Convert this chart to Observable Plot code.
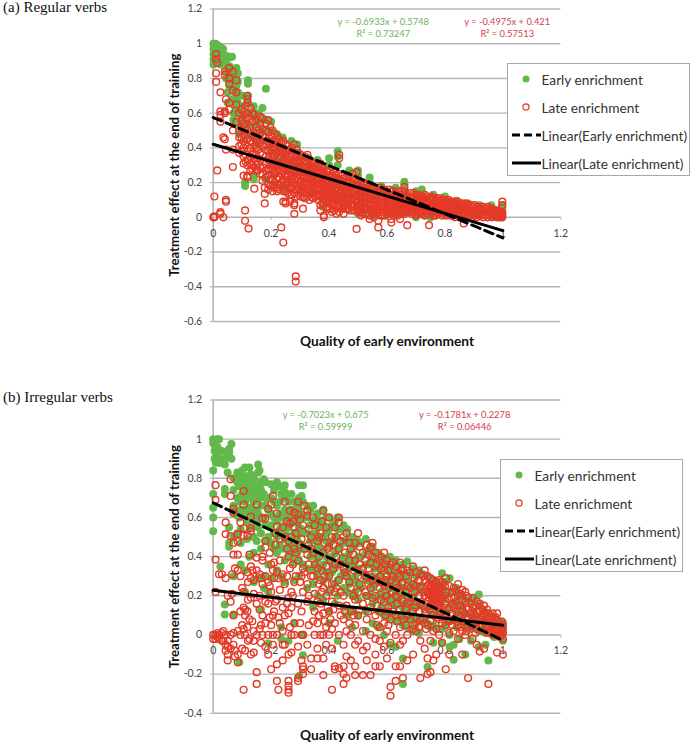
<!DOCTYPE html>
<html><head><meta charset="utf-8">
<script src="https://cdn.jsdelivr.net/npm/d3@7"></script>
<script src="https://cdn.jsdelivr.net/npm/@observablehq/plot@0.6"></script>
<style>
html,body{margin:0;padding:0;background:#fff}
#page{position:relative;width:690px;height:742px;overflow:hidden;font-family:Lato,sans-serif}
#page>div.plot{position:absolute;left:0}
.cap{position:absolute;left:3px;font:15px "Liberation Serif",serif;color:#111}
.leg{position:absolute;width:181px;height:111px;background:#fff;border:1px solid #a8a8a8;color:#333;font:13.7px Lato,sans-serif;box-sizing:content-box}
.leg .t{position:absolute;white-space:nowrap;transform:translateY(-50%)}
.leg svg{position:absolute;left:0;top:0;overflow:visible}
</style></head><body><div id="page"></div>
<script>
const yTicksA=[-0.6,-0.4,-0.2,0,0.2,0.4,0.6,0.8,1,1.2];
const yTicksB=[-0.4,-0.2,0,0.2,0.4,0.6,0.8,1,1.2];
const xTicks=[0,0.2,0.4,0.6,0.8,1,1.2];
const seriesNames=["Early enrichment","Late enrichment","Linear(Early enrichment)","Linear(Late enrichment)"];
const trendX=[0,1];
const trendEarlyA=[0.5748,-0.1185], trendLateA=[0.421,-0.0765];
const trendEarlyB=[0.675,-0.0273], trendLateB=[0.2278,0.0497];
const eqA=["y = -0.6933x + 0.5748\nR² = 0.73247","y = -0.4975x + 0.421\nR² = 0.57513"];
const eqB=["y = -0.7023x + 0.675\nR² = 0.59999","y = -0.1781x + 0.2278\nR² = 0.06446"];
const eqPosA=[0.587,1.015], eqPosB=[0.388,0.868];

/* each row: x, then the y values read at that x */
const earlyA=[
[.001,1,.97,.94,.91,.88],[.008,1,.98,.95,.92,.89],[.016,.99,.96,.93,.9],[.025,.98,.95,.92,.88],[.034,.97,.94,.9],[.045,.93,.88,.84,.8],[.056,.92,.87,.82,.76],[.065,.925,.85,.8,.74,.68],[.08,.86,.82,.76,.7,.64],[.085,.83,.78,.72,.66,.6],[.1,.7,.64,.58,.5],[.12,.79,.77,.7,.66,.6,.54,.47],[.14,.64,.58,.52,.46],[.155,.6,.55,.47,.42],[.17,.63,.56,.5,.44],[.182,.74,.56,.5],[.2,.55,.5,.44,.38],[.22,.48,.42,.37],[.24,.46,.4,.34],[.27,.44,.39,.32],[.29,.42,.37,.3],
[.11,.2,.18],[.14,.24,.22],[.18,.22],[.245,.17,.16],[.33,.34,.3],[.36,.33,.29],[.4,.34,.3],[.43,.38,.35,.3],[.47,.27,.24],[.5,.27,.24],[.54,.23,.2],[.58,.18],[.63,.17],[.66,.205,.19],[.7,.15],[.72,.16,.14],[.76,.13],[.8,.12],[.84,.095],[.88,.08],[.92,.07],[.96,.07],[.998,.07,.055],
[.45,.12,.05],[.52,.03],[.62,.02],[.73,.01],[.8,.03],[.9,.01]];
const earlyA2=[[.21,.3,.24,.18],[.26,.28,.2],[.3,.26,.18,.14],[.34,.24,.15],[.38,.22,.12,.06],[.42,.2,.1],[.46,.17,.08],[.5,.14,.06,.02],[.55,.12,.04,.01],[.6,.1,.03],[.65,.08,.02],[.7,.06,.0],[.75,.04,.0],[.78,.07,.02],[.85,.03],[.05,.72,.66],[.07,.6,.56],[.09,.54,.48]];
const lateA=[
[.001,0,0],[.004,.12,.005,0],[.01,.94,.91,.83,.78],[.014,.89,.27],[.025,.72,.02,.03],[.025,.59,.55,.61],[.035,0,.46],[.04,.84,.82,.6,.45,.61],[.044,.1,.09,.68,.39],[.055,.86,.8,.77,.62,.66],[.068,.73,.84,.29,.39,.5],[.08,.79,.72,.65,.55],[.09,.6,.5,.46,.41,.37],
[.105,.59,.54,.48,.44,.4,.35,.31,.24],[.11,.04,-.02],[.118,.7,.68,.66,.6,.5,.45,.38,.33,.3,.24,.23],[.122,-.065],[.135,.6,.55,.47,.43,.36,.3,.28],[.142,.59,.46,.41,.34,.29,.165],[.155,.5,.45,.39,.34,.31,.27],[.17,.57,.51,.47,.41,.36,.29,.25,.21],[.178,.135,.08,.17],[.19,.56,.49,.44,.38,.33,.28,.24,.19,.16],[.205,.5,.46,.4,.34,.3,.27,.22,.18,.15],[.22,.47,.42,.37,.31,.26,.22,.17,.15],[.235,.43,.39,.35,.3,.25,.2,-.058],[.242,-.145,.09],[.25,.42,.36,.32,.28,.24,.19,.15,.09,.08],[.265,.39,.35,.3,.26,.22,.17,.13,.09],[.28,.42,.36,.31,.27,.22,.19,.14,.08,.07,.02],[.285,-.34,-.37],[.295,.37,.33,.28,.25,.21,.17,.13],[.31,.32,.29,.26,.23,.19,.15,.115,.05],[.325,.36,.31,.27,.24,.2,.16,.12],[.34,.32,.29,.25,.22,.18,.14,.115],[.355,.3,.26,.23,.19,.15,.12],[.37,.31,.27,.24,.2,.16,.12,.07,.04],[.382,.26,.23,.19,.16,.12,.08,.01,0],[.395,.26,.22,.18,.15,.12,.09,.05],[.41,.25,.21,.18,.14,.11,.07,.03],[.425,.24,.2,.17,.13,.1,.06,.02],[.435,.36,.34,.22,.18,.14,.1,.07,.03],[.45,.22,.19,.16,.13,.09,.06,.02],[.465,.2,.17,.14,.11,.08,.05],[.48,.25,.22,.18,.15,.11,.08,.04],[.495,.26,.2,.16,.12,.09,.05,-.067],[.51,.19,.16,.13,.1,.07,.03,.01],[.525,.19,.15,.12,.09,.06,.02],[.54,.18,.14,.11,.08,.05,.01,-.01],[.555,.17,.13,.1,.07,.04,0],[.57,.15,.12,.09,.06,.03,-.02,-.058],[.585,.15,.12,.09,.06,.03,.01],[.6,.14,.11,.08,.05,.02],[.615,.15,.11,.08,.05,.02,-.01,-.03],[.63,.14,.1,.08,.05,.03],[.645,.13,.1,.07,.05,.02,-.01],[.66,.175,.15,.1,.07,.04,.02],[.67,.12,.09,.06,.03,-.045],[.685,.12,.09,.06,.04,.02],[.7,.13,.09,.07,.05,.02,.01],[.715,.12,.09,.07,.04,.02],[.73,.13,.09,.06,.04,.01],[.745,.11,.08,.05,.03,-.045],[.76,.11,.08,.06,.03,.01],[.775,.1,.08,.06,.04,.02],[.79,.1,.07,.05,.03,.01],[.805,.09,.07,.05,.03,.01],[.82,.09,.07,.05,.03,.01],[.835,.08,.06,.04,.02,0],[.85,.08,.06,.04,.02],[.865,.07,.05,.03,.01,-.035],[.88,.07,.05,.03,.01],[.895,.06,.04,.02,0],[.91,.06,.04,.02,0],[.925,.05,.03,.01],[.94,.05,.03,.01],[.955,.05,.03,.01],[.97,.04,.02,.01],[.985,.03,.01,0],[.998,.09,.07,.03,.02,.01,0]];
const lateA2=[
[.098,.62,.56,.51,.46,.42,.38],[.112,.64,.57,.52,.47,.42,.36,.32],[.128,.63,.57,.52,.48,.44,.4,.35,.31,.27],[.148,.56,.52,.48,.44,.4,.36,.32,.27],[.162,.58,.54,.49,.43,.37,.33,.29,.25],[.182,.54,.5,.46,.42,.39,.35,.31,.27,.23],[.197,.52,.47,.43,.39,.35,.31,.27,.22,.18],[.212,.48,.44,.4,.36,.33,.29,.25,.2,.17],[.227,.45,.41,.38,.34,.3,.27,.23,.19,.16],[.242,.44,.4,.37,.33,.29,.26,.22,.18,.15],[.257,.41,.38,.34,.31,.27,.24,.2,.17,.14],[.272,.4,.37,.33,.3,.27,.24,.2,.16,.13],[.288,.39,.35,.32,.29,.26,.23,.19,.16,.12],[.302,.36,.33,.3,.27,.24,.21,.18,.15,.12],[.317,.35,.32,.29,.26,.23,.2,.17,.14,.11],[.332,.33,.3,.28,.25,.22,.19,.16,.13,.1],[.347,.31,.28,.26,.23,.2,.17,.14,.11],[.362,.3,.27,.25,.22,.19,.16,.13,.1],[.377,.28,.25,.23,.2,.17,.14,.11,.08],[.39,.27,.24,.21,.18,.15,.12,.09,.06],[.403,.27,.24,.2,.17,.14,.11,.08,.05],[.418,.26,.23,.19,.16,.13,.1,.07,.04],[.432,.25,.22,.19,.15,.12,.09,.06],[.445,.24,.21,.18,.15,.12,.09,.05],[.458,.23,.2,.17,.14,.11,.08,.05],[.472,.23,.2,.16,.13,.1,.07,.04],[.488,.22,.19,.16,.13,.1,.07,.04],[.502,.21,.18,.15,.12,.09,.06,.03],[.517,.2,.17,.14,.11,.08,.05,.02],[.532,.19,.17,.14,.11,.08,.05,.02],[.548,.18,.16,.13,.1,.07,.05,.02],[.562,.17,.15,.12,.1,.07,.04,.02],[.578,.17,.14,.12,.09,.07,.04,.01],[.592,.16,.14,.11,.09,.06,.04,.01],[.608,.16,.13,.11,.08,.06,.03],[.622,.15,.13,.1,.08,.06,.03,.01],[.638,.15,.12,.1,.08,.05,.03,.01],[.652,.15,.13,.11,.08,.06,.04],[.665,.14,.12,.1,.08,.05,.03],[.678,.14,.11,.09,.07,.05,.03],[.692,.14,.11,.09,.07,.05,.03],[.708,.13,.11,.09,.07,.05,.03],[.722,.12,.1,.08,.06,.04,.02],[.738,.12,.1,.08,.06,.04,.02],[.752,.12,.1,.08,.06,.04,.02],[.768,.11,.09,.07,.05,.03,.01],[.782,.11,.09,.07,.05,.03],[.798,.1,.08,.06,.04,.02],[.812,.1,.08,.06,.04,.02],[.828,.09,.07,.05,.03,.01],[.843,.09,.07,.05,.03,.01],[.858,.08,.06,.04,.02,.01],[.872,.08,.06,.04,.02],[.888,.07,.05,.03,.01],[.903,.07,.05,.03,.01],[.918,.06,.04,.02,.01],[.932,.06,.04,.02,0],[.948,.06,.04,.02,0],[.962,.05,.03,.01,0],[.978,.04,.03,.01,0],[.992,.03,.02,.01,0],
[.21,.41,.35,.31,.26],[.24,.38,.31,.27,.21],[.27,.35,.28,.22,.18],[.3,.31,.26,.2,.15],[.33,.29,.24,.18,.14],[.36,.26,.21,.17,.13],[.39,.23,.2,.16,.13,.1],[.42,.22,.19,.15,.12,.08],[.45,.2,.17,.14,.1,.07],[.48,.19,.16,.13,.1,.06],[.51,.17,.15,.12,.08,.05],[.54,.16,.13,.1,.07,.04],[.57,.14,.11,.08,.05],[.6,.13,.1,.07,.04],[.63,.12,.09,.06,.04],[.66,.12,.09,.06,.03],[.69,.11,.08,.06,.04],[.72,.11,.08,.05,.03],[.75,.1,.07,.05,.03],[.78,.09,.06,.04],[.81,.08,.06,.03],[.84,.07,.05,.02],[.87,.06,.04,.02]];
const earlyB=[
[0,1,.98,.84,.72,.65,.6,.53],[.005,.97,.94,.9],[.015,1,.96,.92],[.02,1,.9,.88],[.025,.35],[.04,.9,.87,.745,.72,.155,.105],[.055,.95,.93,.55,.47,.45],[.063,.975,.9],[.07,.3,.105,.66],[.083,.83,.78,.7,.61,.52],[.09,-.14,.82],[.095,.81,.77,.71,.64,.54,.47,.36],[.11,.855,.8,.75,.68,.62,.33,.22],[.117,.81,.76,.7,.58,.49],[.125,.855,.79,.73,.65,.4],[.14,.8,.74,.68,.6,.5,.42,.27],[.155,.87,.83,.78,.62,.55,.29],[.165,.74,.66,.52,.44,.13],[.175,.795,.72,.6,.3,.24],[.19,-.044,.7,.64,.5,.36,.22],[.2,.77,.7,.62,.56,.47,.29],[.22,.78,.66,.58,.5,.42,.33],[.235,.72,.6,.52,.44,.3,-.02,.04],[.247,.765,.73,.64,.56,.49,.38,.27],[.26,.68,.62,.55,.46,.4,-.03],[.28,.68,.6,.52,.45,.37,.28,.06],[.296,.765,.7,.63,.55,.47,.38,.3,-.21],[.31,.765,.68,.6,.52,.44,.36,-.104,.0],[.325,.66,.6,.52,.44,.34,.24],[.345,.66,.58,.5,.42,.33,.26,.14],[.36,.62,.55,.47,.39,.3,.2],[.38,.64,.56,.5,.42,.36,.28,.18],[.4,.6,.54,.46,.38,.3,.22,.06,.12],[.42,.58,.5,.42,.34,.26,.16],[.43,-.03,.6,.54,.44,.36,.28,.2],[.45,.56,.48,.4,.32,.24,.14],[.463,.54,.47,.38,.3,.22,.1],[.48,.5,.44,.36,.28,.2,.12,.04],[.5,.48,.4,.34,.26,.18,.1],[.527,.49,.42,.36,.28,.2,.12,.02],[.55,.45,.38,.3,.24,.16,.06],[.57,.42,.35,.28,.2,.12,.04],[.59,.39,.34,.26,.18,.1,.0],[.61,.4,.32,.24,.16,.09,-.05],[.63,.38,.3,.22,.15,.07,-.06],[.655,.36,.3,.22,.14,.05,-.12,-.25],[.67,.375,.28,.2,.12,.04],[.69,.34,.26,.18,.1,.02],[.71,.33,.25,.16,.08,.01],[.74,.3,.22,.14,.06,-.163],[.76,.28,.2,.12,.05,-.04],[.79,.315,.24,.17,.1,.03,-.04],[.816,.29,.22,.14,.07,.0,-.06],[.83,.22,.16,.08,-.127,-.05],[.85,.2,.13,.06,-.02],[.87,.18,.11,.04,-.1],[.89,.17,.1,.03,-.03],[.917,.207,.15,.08,.02,-.06],[.94,.115,.07,.01,-.05],[.95,.1,.04,-.13],[.97,.09,.04,-.01],[.985,.07,.03,0],[1,.065,.04,.01,-.03]];
const earlyB2=[[.01,.96,.88],[.03,.94,.88],[.05,.92,.83],[.07,.8,.74,.62,.5],[.09,.76,.68,.6],[.1,.84,.78,.72],[.105,.7,.64],[.13,.82,.76,.7,.62,.55],[.15,.78,.72,.64,.58,.48],[.16,.84,.76,.7],[.18,.78,.7,.66,.56,.48],[.21,.74,.68,.6,.52,.44],[.23,.76,.68,.62,.54,.46],[.25,.7,.6,.52,.44],[.27,.72,.64,.57,.49,.41],[.29,.66,.58,.5,.42],[.305,.71,.62,.54,.46],[.335,.64,.56,.48,.4],[.355,.6,.52,.44,.36],[.37,.58,.5,.44,.34],[.39,.6,.52,.48,.4,.32],[.41,.56,.48,.4,.32],[.44,.54,.46,.38,.3],[.47,.5,.42,.34,.26],[.49,.46,.38,.3,.22],[.51,.47,.4,.32,.24],[.54,.44,.36,.28,.2],[.56,.42,.34,.26,.18],[.58,.38,.3,.22,.14],[.6,.36,.28,.2,.12],[.62,.35,.27,.19,.1],[.64,.33,.26,.18,.1],[.66,.31,.24,.16,.08],[.68,.32,.24,.16,.08],[.7,.3,.22,.14,.06],[.725,.31,.23,.15,.07],[.75,.28,.2,.12,.04],[.775,.27,.19,.11,.03],[.8,.27,.2,.12,.05],[.84,.24,.17,.1,.04],[.86,.2,.14,.08],[.9,.19,.12,.06],[.93,.13,.08,.03],[.96,.1,.05,.01]];
const lateB=[
[0,0,-.02],[.008,.765,.69,.385,.22,.0,-.02],[.02,.0,-.02,.31],[.03,.31,.01,-.03],[.043,.575,.29,.515,.0,-.05,-.08],[.05,-.03,-.06,-.1,-.13,.2],[.06,.795,.71,.505,.17,.0,-.07],[.07,.645,.625,.47,.41,.1,.01,-.05],[.075,.34,-.08,-.11],[.085,.515,.477,.41,.33,.02,-.1,-.14],[.094,.575,.3,.12,.0],[.105,.735,.665,.545,.507,.22,.14,-.28,.03],[.11,.13,.1,.0,-.08],[.118,.507,.32,.12,.04],[.13,.605,.545,.53,.35,.29,.19,-.1],[.125,.41,.08,-.02],[.14,.28,.21,.02,-.03,-.09],[.15,.395,.665,.33,.16,-.19,-.25,.0],[.16,.31,.2,.13,.03],[.17,.595,.4,.38,.26,.1,.0],[.18,.595,.48,.447,.3,.17,.06,-.06],[.19,.645,.27,.16,.0,-.1],[.2,.665,.36,.22,.05,-.175],[.206,.71,.33,.1,.0,-.05],[.21,.37,.29,.12],[.22,.62,.555,.32,.18,.0,-.15,-.235],[.225,.29,.09,-.28],[.24,.55,.31,.14,.02,-.13,-.05],[.247,.68,.5,.26,.1,-.05],[.26,.48,.4,.19,.11,-.1,-.235,-.26,-.28,-.295],[.265,.635,.57,.34,.04],[.27,.5,.22,.14,.0,-.09],[.28,.625,.55,.44,.27,.06,.0],[.293,.615,.68,.38,.16,-.06,-.22,-.235],[.305,.49,.3,.12,.0,-.13],[.31,.56,.34,.22,.0,-.16,-.175,-.2],[.325,.635,.61,.41,.26,.17,-.05],[.338,.5,.44,.3,-.12,-.175],[.35,.56,.36,.21,.12,.0],[.36,.48,.34,.17,.06,-.12,-.07],[.37,.52,.28,.16,.0],[.38,.635,.42,.24,.11,.0,-.205,-.12],[.39,.55,.35,.2,.04,-.05],[.4,.6,.45,.3,.12,.0],[.41,.5,.26,.17,.03,-.28,-.07],[.42,.55,.36,.22,.06,-.16,-.175],[.434,.6,.575,.44,.28,.15,.0,-.17],[.45,.5,.34,.2,.08,-.05,-.16,-.25,-.2],[.46,.52,.3,.15,.02,-.11,-.22],[.475,.44,.24,.12,.0,-.13],[.49,.47,.38,.18,.05,-.05,-.16,-.205],[.5,.52,.3,.22,.1,-.03],[.517,.42,.34,.16,.02,-.08,-.205],[.53,.46,.3,.2,.08,-.06,-.13],[.543,.45,.37,.24,.14,.0,-.205],[.56,.42,.32,.2,.1,-.02,-.1,-.16],[.575,.38,.3,.24,.12,.04,-.03,-.16],[.59,.42,.33,.25,.17,.06,-.06],[.6,.38,.3,.2,.12,.02,-.12],[.612,.36,.28,.18,.08,-.04,-.265,-.31],[.63,.35,.26,.2,.1,.0,-.16,-.235],[.645,.37,.3,.22,.13,.04,-.05,-.16],[.655,.34,.27,.17,.08,-.03,-.22],[.67,.33,.25,.16,.1,.0,-.13],[.69,.35,.26,.19,.12,.03,-.1],[.7,.32,.25,.17,.09,.02],[.715,.31,.24,.16,.08,-.03,-.22],[.73,.33,.28,.2,.13,.06,-.07],[.74,.3,.25,.22,.17,.05,-.12,-.2],[.75,.29,.24,.24,.15,.07,-.03,-.19],[.76,.28,.26,.22,.18,.1,.02,-.13],[.77,.27,.24,.2,.16,.09,.03,-.1],[.78,.28,.25,.21,.15,.08,.0],[.79,.27,.23,.19,.13,.06,-.04],[.803,.29,.22,.17,.11,.05,-.175],[.815,.25,.18,.13,.07,.01,-.1],[.83,.24,.19,.14,.08,.02],[.845,.26,.2,.15,.1,.05,-.02],[.86,.23,.18,.13,.07,.02,-.1],[.87,.22,.17,.11,.05,.0],[.88,.19,.13,.09,.04,-.22],[.895,.19,.14,.09,.05,-.02],[.91,.17,.12,.08,.03,-.05],[.92,.16,.12,.08,.04,-.085],[.935,.15,.11,.07,.02,-.07],[.95,.11,.08,.04,.01,-.25],[.965,.11,.07,.03,0],[.98,.11,.07,.03,.0,-.09],[.99,.06,.03,.01,-.01],[1,.05,.03,.01,-.02,-.1]];
const lateB2=[
[.015,.01,-.01],[.035,.02,-.03],[.065,.31,.21],[.1,.24,.05,-.07],[.12,.27,.18,-.03],[.135,.33,.07],[.165,.29,.05,-.04],[.195,.42,.25,.09],[.215,.52,.46,.17],[.23,.49,.38,.23,.06],[.255,.58,.44,.3,.16],[.275,.58,.36,.2],[.285,.52,.42,.3],[.3,.59,.46,.27,.06],[.315,.66,.44,.32],[.33,.54,.46,.36,.2,.05],[.345,.6,.42,.3,.07],[.365,.5,.4,.26,.1],[.375,.58,.33,.22],[.385,.47,.3,.07],[.395,.44,.26,.14],[.405,.38,.23,.08],[.415,.46,.34,.13],[.425,.5,.4,.24],[.44,.48,.36,.22,.1],[.455,.42,.32,.12],[.47,.47,.38,.27,.06],[.485,.41,.33,.2,.1],[.505,.45,.36,.26,.13],[.525,.38,.3,.22],[.535,.41,.34,.26,.12],[.55,.47,.4,.28,.19],[.565,.36,.28,.15,.05],[.58,.4,.34,.27,.18],[.595,.36,.28,.2,.1],[.605,.33,.24,.14,.05],[.62,.37,.3,.22,.12],[.635,.31,.24,.16,.07],[.65,.33,.26,.18,.1],[.665,.3,.22,.13,.05],[.68,.32,.24,.17,.08],[.695,.29,.22,.14,.05],[.71,.28,.2,.12,.04],[.725,.3,.22,.15,.08],[.735,.27,.19,.11,.03],[.745,.26,.21,.19,.13],[.755,.25,.21,.2,.16],[.765,.24,.22,.2,.18,.16],[.775,.25,.22,.19,.17,.14],[.785,.24,.2,.18,.12],[.8,.25,.2,.16,.09],[.825,.22,.16,.11,.05],[.84,.22,.17,.12,.07],[.855,.21,.15,.09,.04],[.875,.2,.14,.09,.02],[.89,.16,.11,.06],[.905,.15,.1,.06,.01],[.93,.13,.09,.05],[.945,.13,.09,.05],[.96,.09,.05,.01],[.975,.09,.05,.02],[.995,.07,.04,.02,0]];

const flat=rows=>rows.flatMap(([x,...ys])=>ys.map(y=>({x,y})));
const page=document.getElementById("page");
const GRID="#b4b4b4",GREEN="#62b84a",RED="#e53a28",TICK="#444";
function panel({early,late,tE,tL,eq,eqX,eqY,yTicks,yDomain,height,top,pxPerUnit,titleDy}){
  const trendRows=ys=>trendX.map((x,i)=>({x,y:ys[i]}));
  const p=Plot.plot({
    width:690,height,marginLeft:212.7,marginRight:129.7,marginTop:8.5,marginBottom:height-(yDomain[1]-yDomain[0])*pxPerUnit-8.5,
    style:{background:"transparent",fontFamily:"Lato,sans-serif"},
    x:{domain:[0,1.2]},y:{domain:yDomain},
    marks:[
      Plot.gridY(yTicks,{stroke:GRID,strokeOpacity:1,strokeWidth:1.4}),
      Plot.ruleX([0],{stroke:GRID,strokeWidth:1.6}),
      Plot.axisY({ticks:yTicks,tickFormat:d=>String(d),tickSize:3,tickPadding:8,stroke:GRID,color:TICK,fontSize:10.5,label:"Treatment effect at the end of training",labelAnchor:"center",labelArrow:"none",labelOffset:44,fontWeight:400}),
      Plot.axisX({anchor:"bottom",ticks:xTicks,tickFormat:d=>String(d),tickSize:3,tickPadding:9,stroke:GRID,color:TICK,fontSize:10.5,dy:yDomain[0]*pxPerUnit,label:null}),
      Plot.dot(flat(early),{x:"x",y:"y",r:4,fill:GREEN}),
      Plot.dot(flat(late),{x:"x",y:"y",r:3.4,fill:"none",stroke:RED,strokeWidth:1.4}),
      Plot.line(trendRows(tE),{x:"x",y:"y",stroke:"#000",strokeWidth:3,strokeDasharray:"9 5"}),
      Plot.line(trendRows(tL),{x:"x",y:"y",stroke:"#000",strokeWidth:3}),
      Plot.text([eq[0]],{x:eqX[0],y:eqY,text:d=>d,fill:"#6cb257",fontSize:9.3,lineHeight:1.3}),
      Plot.text([eq[1]],{x:eqX[1],y:eqY,text:d=>d,fill:"#cf3d4c",fontSize:9.3,lineHeight:1.3}),
      Plot.text(["Quality of early environment"],{x:0.6,y:yDomain[0],dy:titleDy,text:d=>d,fill:"#111",fontSize:13.7,fontWeight:700})
    ]});
  const w=document.createElement("div");w.className="plot";w.style.top=top+"px";w.append(p);page.append(w);
  p.querySelectorAll('[aria-label="y-axis label"] text, [aria-label="y-axis label"]').forEach(e=>{e.setAttribute("font-weight","700");e.setAttribute("font-size","13.2");e.setAttribute("fill","#111");e.style.fontSize="13.2px"});
}
panel({early:earlyA.concat(earlyA2),late:lateA.concat(lateA2),tE:trendEarlyA,tL:trendLateA,eq:eqA,eqX:eqPosA,eqY:1.098,yTicks:yTicksA,yDomain:[-0.6,1.2],height:350,top:0,pxPerUnit:173.6,titleDy:20});
panel({early:earlyB.concat(earlyB2),late:lateB.concat(lateB2),tE:trendEarlyB,tL:trendLateB,eq:eqB,eqX:eqPosB,eqY:1.095,yTicks:yTicksB,yDomain:[-0.4,1.2],height:351,top:390.5,pxPerUnit:195.8,titleDy:22});

function legend(left,top){
  const d=document.createElement("div");d.className="leg";d.style.left=left+"px";d.style.top=top+"px";
  const rows=[15,43,71,99];
  rows.forEach((y,i)=>{const t=document.createElement("div");t.className="t";t.style.left="34px";t.style.top=y+"px";t.textContent=seriesNames[i];d.append(t)});
  d.insertAdjacentHTML("beforeend",`<svg width="181" height="111"><circle cx="18" cy="15" r="3.5" fill="${GREEN}"/><circle cx="18" cy="43" r="3.1" fill="none" stroke="${RED}" stroke-width="1.2"/><line x1="4" x2="33" y1="71" y2="71" stroke="#000" stroke-width="3" stroke-dasharray="8 4"/><line x1="4" x2="33" y1="99" y2="99" stroke="#000" stroke-width="3"/></svg>`);
  page.append(d);
}
legend(506.5,62.5);legend(499.5,459);
[["(a) Regular verbs",-1],["(b) Irregular verbs",389]].forEach(([s,t])=>{const c=document.createElement("div");c.className="cap";c.style.top=t+"px";c.textContent=s;page.append(c)});
</script></body></html>
